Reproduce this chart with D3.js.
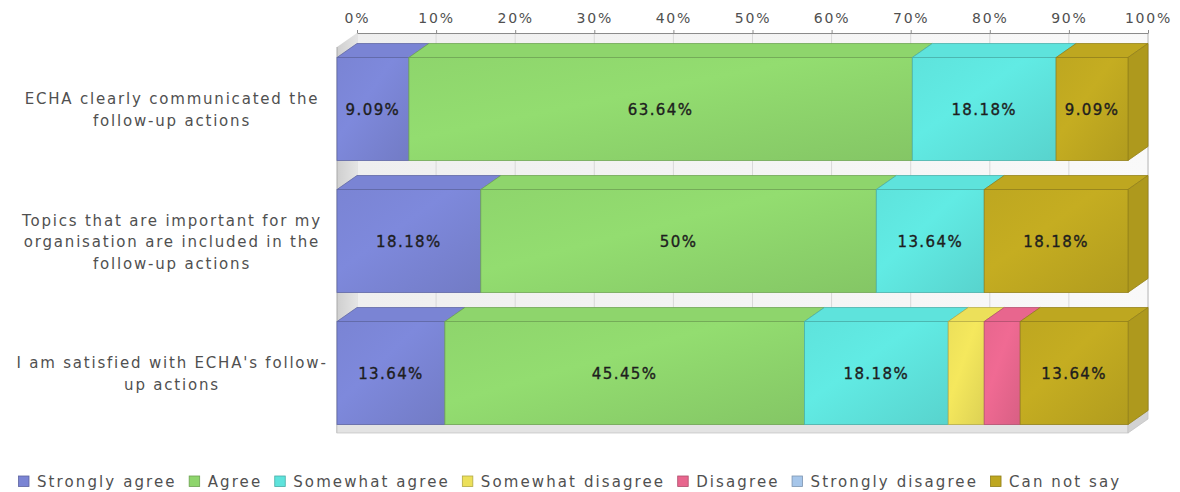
<!DOCTYPE html>
<html>
<head>
<meta charset="utf-8">
<script src="https://cdn.jsdelivr.net/npm/d3@7"></script>
<style>
  html, body { margin: 0; padding: 0; background: #fff; }
  svg { display: block; }
  text { font-family: "DejaVu Sans", Verdana, sans-serif; }
</style>
</head>
<body>
<svg id="chart" width="1180" height="492"></svg>
<script>
// Survey statements (one stacked bar each)
const categories = [
  "ECHA clearly communicated the follow-up actions",
  "Topics that are important for my organisation are included in the follow-up actions",
  "I am satisfied with ECHA's follow-up actions"
];

// Answer options, in stacking order
const seriesNames = [
  "Strongly agree", "Agree", "Somewhat agree", "Somewhat disagree",
  "Disagree", "Strongly disagree", "Can not say"
];
const seriesColors = [
  "#7a84d4", "#8ed56c", "#5ee3dc", "#ece05a", "#e8668e", "#a6c6ea", "#bea720"
];

// Share of respondents (%) per statement
const stronglyAgree    = [9.09, 18.18, 13.64];
const agree            = [63.64, 50, 45.45];
const somewhatAgree    = [18.18, 13.64, 18.18];
const somewhatDisagree = [0, 0, 4.55];
const disagree         = [0, 0, 4.55];
const stronglyDisagree = [0, 0, 0];
const canNotSay        = [9.09, 18.18, 13.64];

const tickValues = [0, 10, 20, 30, 40, 50, 60, 70, 80, 90, 100];

const seriesValues = [stronglyAgree, agree, somewhatAgree, somewhatDisagree,
                      disagree, stronglyDisagree, canNotSay];

const rows = categories.map((c, i) => {
  const r = { category: c };
  seriesNames.forEach((s, j) => { r[s] = seriesValues[j][i]; });
  return r;
});
const stacked = d3.stack().keys(seriesNames)(rows);

const svg = d3.select("#chart");

// 3D depth offset of the plot box
const DX = 20, DY = -14;

const x = d3.scaleLinear().domain([0, 100]).range([337, 1128]);
const xBack = d3.scaleLinear().domain([0, 100]).range([337 + DX, 1128 + DX]);
const y = d3.scaleBand().domain(categories).range([43, 439])
  .paddingInner(0.22).paddingOuter(0.11);

const floorFront = y(categories[categories.length - 1]) + y.bandwidth();
const floorThick = 8.5;
const wallTopFront = y(categories[0]) - 10.5;
const wallTopBack = wallTopFront + DY;
const floorBack = floorFront + DY;

const defs = svg.append("defs");

// Back wall, left wall and floor
const bwGrad = defs.append("linearGradient").attr("id", "backwall")
  .attr("x1", 0).attr("y1", 0).attr("x2", 1).attr("y2", 0);
bwGrad.append("stop").attr("offset", 0).attr("stop-color", "#efefef");
bwGrad.append("stop").attr("offset", 1).attr("stop-color", "#f9f9f9");

svg.append("rect")
  .attr("x", xBack(0)).attr("y", wallTopBack)
  .attr("width", xBack(100) - xBack(0)).attr("height", floorBack - wallTopBack)
  .attr("fill", "url(#backwall)");

svg.append("g").selectAll("line").data(tickValues).join("line")
  .attr("x1", d => xBack(d)).attr("x2", d => xBack(d))
  .attr("y1", wallTopBack).attr("y2", floorBack)
  .attr("stroke", "#d8d8d8").attr("stroke-width", 1);

svg.append("line")
  .attr("x1", xBack(100)).attr("x2", xBack(100))
  .attr("y1", wallTopBack).attr("y2", floorBack)
  .attr("stroke", "#c4c4c4");

const lwGrad = defs.append("linearGradient").attr("id", "leftwall")
  .attr("x1", 0).attr("y1", 0).attr("x2", 1).attr("y2", 0);
lwGrad.append("stop").attr("offset", 0).attr("stop-color", "#cfcfcf");
lwGrad.append("stop").attr("offset", 1).attr("stop-color", "#e4e4e4");

svg.append("path")
  .attr("d", `M${x(0)},${wallTopFront} L${xBack(0)},${wallTopBack} L${xBack(0)},${floorBack} L${x(0)},${floorFront + floorThick} Z`)
  .attr("fill", "url(#leftwall)");
svg.append("line")
  .attr("x1", x(0)).attr("x2", x(0))
  .attr("y1", wallTopFront).attr("y2", floorFront + floorThick)
  .attr("stroke", "#a8a8a8");

// floor slab: front face and right side
svg.append("rect")
  .attr("x", x(0)).attr("y", floorFront)
  .attr("width", x(100) - x(0)).attr("height", floorThick)
  .attr("fill", "#e3e3e3").attr("stroke", "#c4c4c4").attr("stroke-width", 0.8);
svg.append("path")
  .attr("d", `M${x(100)},${floorFront} L${xBack(100)},${floorBack} L${xBack(100)},${floorBack + floorThick} L${x(100)},${floorFront + floorThick} Z`)
  .attr("fill", "#d2d2d2").attr("stroke", "#c4c4c4").attr("stroke-width", 0.8);

// Top axis
const axis = d3.axisTop(xBack).tickValues(tickValues)
  .tickFormat(d => d + "%").tickSize(3).tickSizeOuter(0).tickPadding(7);
const axisG = svg.append("g").attr("transform", `translate(0,${wallTopBack})`).call(axis);
axisG.select(".domain").attr("stroke", "#8a8a8a");
axisG.selectAll(".tick line").attr("stroke", "#8a8a8a");
axisG.selectAll(".tick text")
  .attr("fill", "#505050").style("font-size", "14px").style("letter-spacing", "1.8px")
  .style("font-family", "'DejaVu Sans', Verdana, sans-serif");

// Gradients for bar faces
seriesColors.forEach((c, i) => {
  const g = defs.append("linearGradient").attr("id", "face" + i)
    .attr("x1", 0).attr("y1", 0).attr("x2", 1).attr("y2", 1);
  g.append("stop").attr("offset", 0).attr("stop-color", d3.color(c).formatHex());
  g.append("stop").attr("offset", 0.4).attr("stop-color", d3.color(c).brighter(0.1).formatHex());
  g.append("stop").attr("offset", 1).attr("stop-color", d3.color(c).darker(0.2).formatHex());
});

// Flatten stack into segments, drawn left to right per row
const segments = [];
categories.forEach((cat, ri) => {
  stacked.forEach((layer, si) => {
    const d = layer[ri];
    if (d[1] - d[0] > 0) {
      segments.push({ cat, si, v0: d[0], v1: d[1], value: seriesValues[si][ri],
                      last: false });
    }
  });
});
categories.forEach(cat => {
  const segs = segments.filter(s => s.cat === cat);
  segs[segs.length - 1].last = true;
});

const barG = svg.append("g");
segments.forEach(s => {
  const x0 = x(s.v0), x1 = x(s.v1);
  const yt = y(s.cat), yb = yt + y.bandwidth();
  const base = d3.color(seriesColors[s.si]);
  const edge = base.darker(0.7).formatHex();
  const g = barG.append("g");
  // top face
  g.append("path")
    .attr("d", `M${x0},${yt} L${x0 + DX},${yt + DY} L${x1 + DX},${yt + DY} L${x1},${yt} Z`)
    .attr("fill", base.formatHex()).attr("stroke", edge).attr("stroke-width", 0.8)
    .attr("stroke-linejoin", "round");
  // right side face (visible only on the final segment)
  if (s.last) {
    g.append("path")
      .attr("d", `M${x1},${yt} L${x1 + DX},${yt + DY} L${x1 + DX},${yb + DY} L${x1},${yb} Z`)
      .attr("fill", base.darker(0.25).formatHex()).attr("stroke", edge).attr("stroke-width", 0.8)
      .attr("stroke-linejoin", "round");
  }
  // front face
  g.append("rect")
    .attr("x", x0).attr("y", yt).attr("width", x1 - x0).attr("height", y.bandwidth())
    .attr("fill", `url(#face${s.si})`).attr("stroke", edge).attr("stroke-width", 0.8);
});

// Value labels on the front faces
const fmt = d3.format(".2~f");
const labelG = svg.append("g");
segments.forEach(s => {
  const w = x(s.v1) - x(s.v0);
  const t = labelG.append("text")
    .attr("x", (x(s.v0) + x(s.v1)) / 2)
    .attr("y", y(s.cat) + y.bandwidth() / 2 + 1)
    .attr("text-anchor", "middle").attr("dominant-baseline", "central")
    .attr("fill", "#1e1e1e")
    .style("font-size", "15px").style("letter-spacing", "1.4px")
    .style("stroke", "#1e1e1e").style("stroke-width", "0.35px")
    .text(fmt(s.value) + "%");
  if (t.node().getComputedTextLength() > w - 4) t.remove();
});

// Category labels, wrapped to the space left of the plot
const catG = svg.append("g");
const maxLabelW = 318;
categories.forEach(cat => {
  const t = catG.append("text")
    .attr("text-anchor", "middle").attr("fill", "#505050")
    .style("font-size", "15px").style("letter-spacing", "1.8px");
  const tokens = cat.match(/[^\s-]+-?\s*/g);
  const lines = [];
  let cur = "";
  const probe = t.append("tspan");
  tokens.forEach(tok => {
    const trial = cur + tok;
    probe.text(trial.trimEnd());
    if (cur && probe.node().getComputedTextLength() > maxLabelW) {
      lines.push(cur.trimEnd());
      cur = tok;
    } else {
      cur = trial;
    }
  });
  lines.push(cur.trimEnd());
  probe.remove();
  const lh = 21.5;
  const cy = y(cat) + y.bandwidth() / 2 + 1;
  lines.forEach((ln, i) => {
    t.append("tspan")
      .attr("x", 172)
      .attr("y", cy + (i - (lines.length - 1) / 2) * lh)
      .attr("dominant-baseline", "central")
      .text(ln);
  });
});

// Legend
const legend = svg.append("g").attr("transform", "translate(18,481)");
let lx = 0;
seriesNames.forEach((name, i) => {
  const item = legend.append("g").attr("transform", `translate(${lx},0)`);
  item.append("rect")
    .attr("x", 0.5).attr("y", -5).attr("width", 10.5).attr("height", 10.5)
    .attr("fill", seriesColors[i]).attr("stroke", d3.color(seriesColors[i]).darker(0.8))
    .attr("stroke-width", 0.8);
  const t = item.append("text")
    .attr("x", 19).attr("y", 0.5).attr("dominant-baseline", "central")
    .attr("fill", "#505050").style("font-size", "15px").style("letter-spacing", "2.1px")
    .text(name);
  lx += 19 + t.node().getComputedTextLength() + 12;
});
</script>
</body>
</html>
